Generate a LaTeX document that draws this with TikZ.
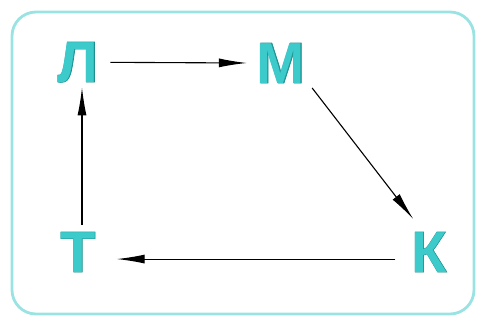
\documentclass[tikz,border=0pt]{standalone}
\usepackage{fontspec}
\setmainfont{Liberation Sans}
\newfontfamily\outlinefont[FakeBold=1.2]{Liberation Sans Bold}
\newfontfamily\fillfont{Liberation Sans Bold}
\usetikzlibrary{arrows.meta}
\definecolor{framec}{HTML}{9BE3E3}
\definecolor{letterc}{HTML}{3CCACA}
\definecolor{edgec}{HTML}{1E8F8F}
\tikzset{
  letter/.style={inner sep=0pt, outer sep=0pt, anchor=base, text=letterc,
    font=\fontsize{58}{58}\selectfont\fillfont},
  letteredge/.style={inner sep=0pt, outer sep=0pt, anchor=base, text=edgec,
    font=\fontsize{58}{58}\selectfont\outlinefont},
  conn/.style={line width=1.1pt, draw=black,
    -{Latex[length=28pt,width=9pt]}}
}
\begin{document}
\begin{tikzpicture}[x=1pt,y=1pt]
\useasboundingbox (0,0) rectangle (479,322);
\draw[framec, line width=2.8pt, rounded corners=24pt] (12,8) rectangle (474,310);
\node[letteredge] (Lo) at (78,240) {Л};
\node[letteredge] (Mo) at (281,239) {М};
\node[letteredge] (Ko) at (429,50) {К};
\node[letteredge] (To) at (78,50) {Т};
\node[letter] (L) at (78,240) {Л};
\node[letter] (M) at (281,239) {М};
\node[letter] (K) at (429,50) {К};
\node[letter] (T) at (78,50) {Т};
\draw[conn, shorten <=12pt, shorten >=10pt] (L.east) -- (M.west);
\draw[conn] ([xshift=7pt,yshift=-5pt]M.south east) -- ([xshift=2pt,yshift=13pt]K.north west);
\draw[conn, shorten <=16pt, shorten >=21pt] ([yshift=-7pt]K.west) -- ([yshift=-7pt]T.east);
\draw[conn, shorten <=7pt, shorten >=5pt] ([xshift=4pt]T.north) -- ([xshift=4pt]L.south);
\end{tikzpicture}
\end{document}
